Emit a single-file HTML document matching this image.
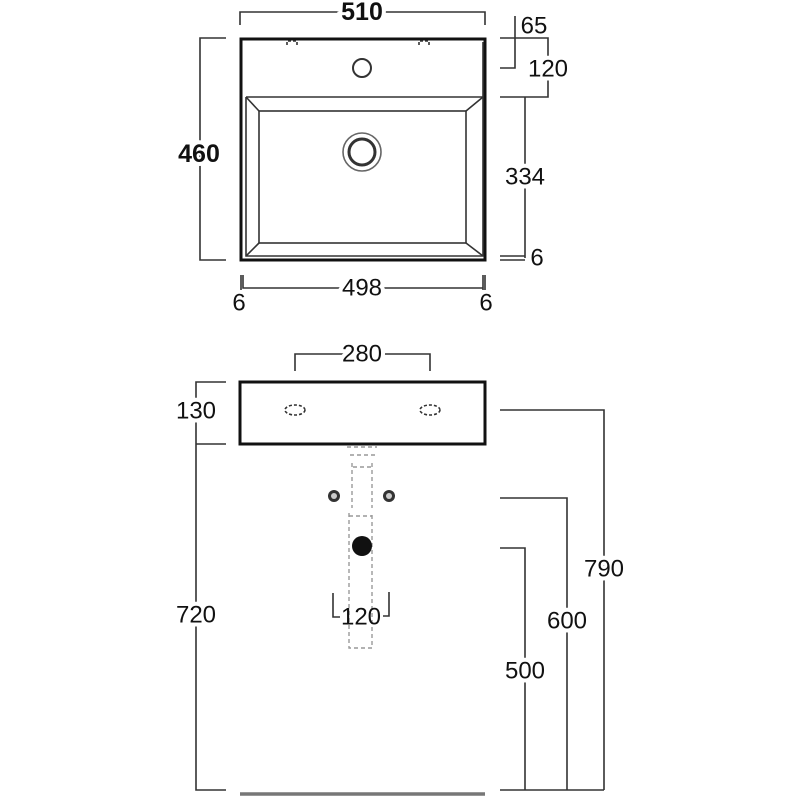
<!DOCTYPE html>
<html><head><style>body{margin:0;background:#fff}</style></head><body>
<svg width="800" height="800" viewBox="0 0 800 800" xmlns="http://www.w3.org/2000/svg" font-family="Liberation Sans, sans-serif">
<g fill="none" stroke="#333" stroke-width="1.6">
<rect x="241" y="39" width="244" height="221" stroke="#111" stroke-width="3"/>
<polyline points="246,97 246,256 483,256 483,42"/>
<line x1="246" y1="97" x2="483" y2="97"/>
<rect x="259" y="111" width="207" height="132"/>
<line x1="246" y1="97" x2="259" y2="111"/><line x1="483" y1="97" x2="466" y2="111"/>
<line x1="246" y1="256" x2="259" y2="243"/><line x1="483" y1="256" x2="466" y2="243"/>
<circle cx="362" cy="68" r="9" stroke-width="2"/>
<circle cx="362" cy="152" r="19" stroke="#666"/>
<circle cx="362" cy="152" r="13" stroke-width="3"/>
<path d="M287 45v-4h10v4M419 45v-4h10v4" stroke-dasharray="3 2"/>
<path d="M240 25V12h245v13"/>
<path d="M226 38H200v222h26"/>
<path d="M515 16v52h-15"/>
<path d="M500 38h48v59h-48"/>
<path d="M525 97v161"/>
<path d="M500 256h25M500 260h25"/>
<path d="M241 275v15M243 275v13h240M483 275v15M485 275v15"/>
<rect x="240" y="382" width="245" height="62" stroke="#111" stroke-width="3"/>
<ellipse cx="295" cy="410" rx="10" ry="5" stroke-dasharray="3 2"/>
<ellipse cx="430" cy="410" rx="10" ry="5" stroke-dasharray="3 2"/>
<path d="M295 371v-17h135v17"/>
<path d="M226 382h-30v408h30M196 444h30"/>
<path d="M500 410h104v380M500 498h67v292M500 548h25v242M500 790h104"/>
<g stroke="#999" stroke-dasharray="4 3" stroke-width="1.4">
<path d="M347 447h30M350 455h26M352 463v45M372 463v45M353 467h20M349 513v135h23v-135M349 516h23"/>
</g>
<path d="M333 593v24h7M389 592v24h-6"/>
<line x1="240" y1="794" x2="485" y2="794" stroke="#777" stroke-width="3.5"/>
</g>
<circle cx="334" cy="496" r="6" fill="#333"/><circle cx="334" cy="496" r="3" fill="#ccc"/>
<circle cx="389" cy="496" r="6" fill="#333"/><circle cx="389" cy="496" r="3" fill="#ccc"/>
<circle cx="362" cy="546" r="10" fill="#111"/>
<g font-size="24" fill="#111" text-anchor="middle" dominant-baseline="central">
<text x="362" y="12" font-weight="bold" font-size="25" stroke="#fff" stroke-width="8" paint-order="stroke">510</text>
<text x="199" y="154" font-weight="bold" font-size="25" stroke="#fff" stroke-width="8" paint-order="stroke">460</text>
<text x="534" y="26">65</text>
<text x="548" y="69" stroke="#fff" stroke-width="8" paint-order="stroke">120</text>
<text x="525" y="177" stroke="#fff" stroke-width="8" paint-order="stroke">334</text>
<text x="537" y="258">6</text>
<text x="362" y="288" stroke="#fff" stroke-width="8" paint-order="stroke">498</text>
<text x="239" y="303">6</text>
<text x="486" y="303">6</text>
<text x="362" y="354" stroke="#fff" stroke-width="8" paint-order="stroke">280</text>
<text x="196" y="411" stroke="#fff" stroke-width="8" paint-order="stroke">130</text>
<text x="196" y="615" stroke="#fff" stroke-width="8" paint-order="stroke">720</text>
<text x="604" y="569" stroke="#fff" stroke-width="8" paint-order="stroke">790</text>
<text x="567" y="621" stroke="#fff" stroke-width="8" paint-order="stroke">600</text>
<text x="525" y="671" stroke="#fff" stroke-width="8" paint-order="stroke">500</text>
<text x="361" y="617">120</text>
</g>
</svg>
</body></html>
